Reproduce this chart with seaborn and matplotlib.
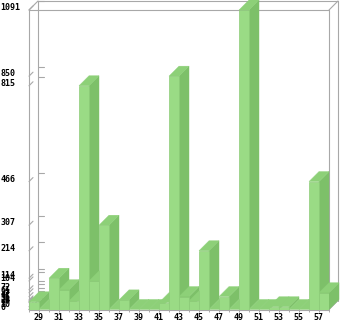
import numpy as np
import pandas as pd
import matplotlib
matplotlib.use("Agg")
import matplotlib.pyplot as plt
import seaborn as sns
from matplotlib.patches import Polygon
from matplotlib.lines import Line2D

# ---- data ----
categories = list(range(29, 59))
values = [28, 0, 114, 72, 31, 815, 104, 307, 0, 35,
          0, 0, 0, 25, 850, 47, 31, 214, 0, 47,
          0, 1091, 0, 0, 10, 10, 0, 0, 466, 61]
x_tick_labels = [str(c) for c in categories[::2]]
y_tick_values = sorted(set(values))
y_tick_labels = [str(v) for v in y_tick_values]

# ---- style ----
W, H, DPI = 340, 321, 100
FRONT = "#9ADB85"
TOP = "#8DD078"
SIDE = "#7DC069"
EDGE = "#8DCB79"
FRAME = "#A8A8A8"
DEPTH = 10   # px, bar depth
WALL = 9     # px, frame depth

sns.set_theme(style="white")
plt.rcParams["font.family"] = ["DejaVu Sans Mono"]

fig = plt.figure(figsize=(W / DPI, H / DPI), dpi=DPI)
L, R, T, B = 29, 329, 10, 309.5
ax = fig.add_axes([L / W, (H - B) / H, (R - L) / W, (B - T) / H])
ax.patch.set_alpha(0)

df = pd.DataFrame({"cat": [str(c) for c in categories], "val": values})
sns.barplot(data=df, x="cat", y="val", order=list(df["cat"]), color=FRONT,
            saturation=1, width=1.0, edgecolor=EDGE, linewidth=0.5, ax=ax)
n = len(categories)
ax.set_xlim(-0.5, n - 0.5)
ax.set_ylim(0, max(values))
for s in ax.spines.values():
    s.set_visible(False)
ax.set_xlabel("")
ax.set_ylabel("")

# depth in data units
sx = (R - L) / n
sy = (B - T) / max(values)
dx = DEPTH / sx
dy = DEPTH / sy

bars = list(ax.patches)
for i, (v, bar) in enumerate(zip(values, bars)):
    bar.set_zorder(11 + 2 * i)
    top = Polygon([(i - 0.5, v), (i + 0.5, v), (i + 0.5 + dx, v + dy), (i - 0.5 + dx, v + dy)],
                  closed=True, facecolor=TOP, edgecolor=TOP, linewidth=0.3,
                  clip_on=False, zorder=10 + 2 * i)
    side = Polygon([(i + 0.5, 0), (i + 0.5 + dx, dy), (i + 0.5 + dx, v + dy), (i + 0.5, v)],
                   closed=True, facecolor=SIDE, edgecolor=SIDE, linewidth=0.3,
                   clip_on=False, zorder=10 + 2 * i)
    ax.add_patch(side)
    ax.add_patch(top)

# ticks
ax.set_yticks(y_tick_values)
ax.set_yticklabels(y_tick_labels, ha="left", va="baseline", fontsize=6,
                   fontweight="bold", color="black")
ax.tick_params(axis="y", length=0, pad=L * 72 / DPI - 0.5)
ax.set_xticks(np.arange(0, n, 2) + 0.45)
ax.set_xticklabels(x_tick_labels, fontsize=6, fontweight="bold", color="black")
ax.tick_params(axis="x", which="major", length=0, pad=2.2)
ax.set_xticks(np.arange(-0.5, n, 1), minor=True)
ax.tick_params(axis="x", which="minor", length=1.5, width=0.7, color=FRAME, bottom=True)

# frame (pseudo-3D box)
def fpx(x, y):
    return (x / W, 1 - y / H)

def fline(p0, p1):
    a, b = fpx(*p0), fpx(*p1)
    fig.add_artist(Line2D([a[0], b[0]], [a[1], b[1]], color=FRAME, linewidth=0.8, zorder=-1))

segs = [
    ((L, T), (R, T)), ((L, T), (L, B)), ((R, T), (R, B)), ((L, B), (R, B)),
    ((L + WALL, T - WALL), (R + WALL, T - WALL)),
    ((L + WALL, T - WALL), (L + WALL, B - WALL)),
    ((R + WALL, T - WALL), (R + WALL, B - WALL)),
    ((L, T), (L + WALL, T - WALL)), ((R, T), (R + WALL, T - WALL)),
    ((R, B), (R + WALL, B - WALL)), ((L, B), (L + WALL, B - WALL)),
]
for p0, p1 in segs:
    fline(p0, p1)

# tick marks on the axis wall
for v in y_tick_values:
    disp = ax.transData.transform((0, v))
    ypx = H - disp[1] * (H / fig.bbox.height)
    fline((L, ypx), (L + 4, ypx - 4))
    fline((L + WALL, ypx - WALL), (L + WALL + 6, ypx - WALL))

fig.savefig("out.png", dpi=DPI, facecolor="white")
